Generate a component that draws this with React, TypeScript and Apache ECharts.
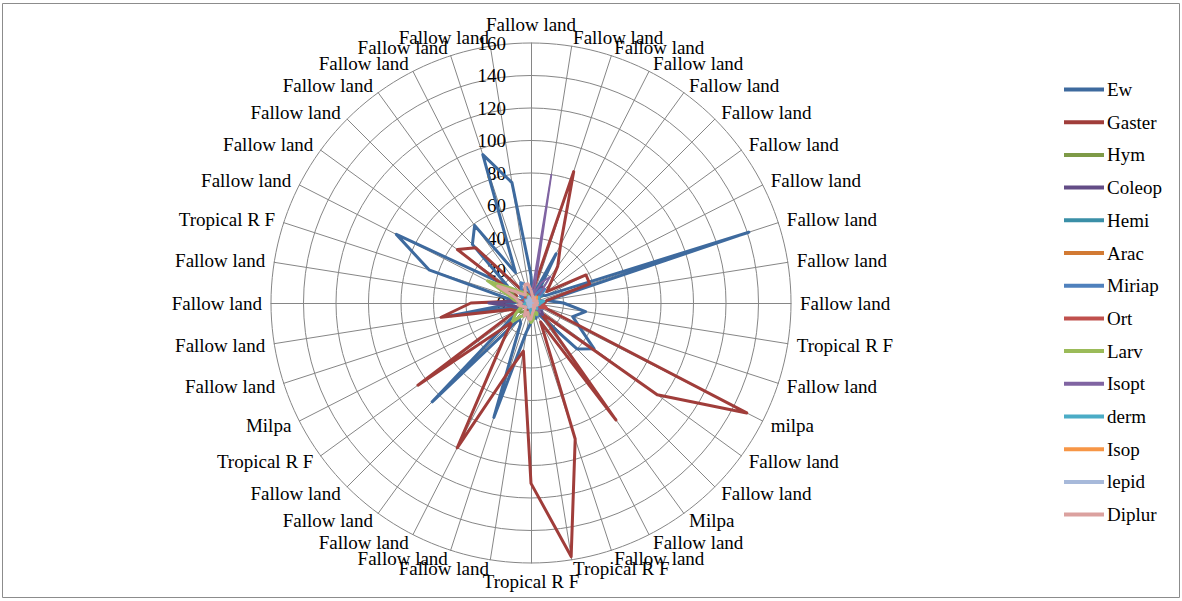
import React, { useEffect, useRef } from "react";
import * as echarts from "echarts";

// Categories listed clockwise starting from the top spoke
const categories: string[] = [
  "Fallow land", "Fallow land", "Fallow land", "Fallow land", "Fallow land",
  "Fallow land", "Fallow land", "Fallow land", "Fallow land", "Fallow land",
  "Fallow land", "Tropical R F", "Fallow land", "milpa", "Fallow land",
  "Fallow land", "Milpa", "Fallow land", "Fallow land", "Tropical R F",
  "Tropical R F", "Fallow land", "Fallow land", "Fallow land", "Fallow land",
  "Fallow land", "Tropical R F", "Milpa", "Fallow land", "Fallow land",
  "Fallow land", "Fallow land", "Tropical R F", "Fallow land", "Fallow land",
  "Fallow land", "Fallow land", "Fallow land", "Fallow land", "Fallow land",
];

const seriesNames: string[] = [
  "Ew", "Gaster", "Hym", "Coleop", "Hemi", "Arac", "Miriap",
  "Ort", "Larv", "Isopt", "derm", "Isop", "lepid", "Diplur",
];

const seriesColors: string[] = [
  "#3E6A9E", "#A03D3A", "#7E9A47", "#634C86", "#3A8FA7", "#D27A33", "#4F81BD",
  "#C0504D", "#9BBB59", "#8064A2", "#4BACC6", "#F79646", "#A7B9DA", "#DBA19F",
];

const tickValues: number[] = [0, 20, 40, 60, 80, 100, 120, 140, 160];

const ew = [17, 5, 6, 34, 6, 5, 8, 10, 141, 10, 20, 34, 27, 34, 48, 40, 10, 8, 10, 8, 12, 18, 74, 14, 12, 86, 12, 10, 8, 50, 10, 12, 66, 93, 18, 51, 59, 21, 96, 75];
const gaster = [6, 8, 85, 40, 28, 17, 12, 38, 38, 10, 8, 6, 8, 149, 96, 8, 89, 13, 88, 158, 111, 30, 44, 100, 30, 17, 86, 10, 13, 56, 37, 8, 10, 10, 56, 48, 10, 8, 5, 6];
const hym = [4, 3, 5, 4, 3, 2, 4, 3, 5, 3, 4, 3, 2, 4, 3, 5, 4, 6, 5, 8, 10, 6, 5, 7, 6, 8, 9, 7, 5, 6, 4, 8, 10, 14, 12, 9, 7, 6, 5, 4];
const coleop = [3, 4, 6, 8, 12, 6, 5, 4, 3, 4, 3, 5, 6, 5, 8, 10, 4, 3, 2, 3, 4, 2, 3, 4, 3, 2, 3, 4, 8, 12, 26, 8, 5, 4, 3, 2, 3, 4, 3, 2];
const hemi = [2, 3, 2, 4, 5, 6, 8, 4, 3, 5, 6, 4, 3, 2, 4, 3, 2, 3, 4, 3, 5, 4, 3, 2, 3, 2, 4, 3, 2, 3, 4, 3, 2, 3, 2, 3, 4, 5, 3, 2];
const arac = [1, 2, 1, 2, 3, 2, 1, 2, 3, 2, 4, 2, 1, 2, 1, 2, 3, 2, 1, 2, 3, 2, 1, 2, 1, 2, 1, 2, 3, 2, 1, 2, 1, 2, 3, 2, 1, 2, 1, 2];
const miriap = [5, 8, 4, 6, 10, 12, 6, 5, 4, 7, 5, 4, 6, 8, 5, 4, 6, 9, 5, 4, 6, 5, 4, 6, 5, 4, 3, 5, 4, 6, 5, 4, 6, 5, 8, 6, 10, 14, 12, 8];
const ort = [3, 4, 5, 3, 4, 6, 5, 4, 6, 5, 4, 8, 10, 6, 5, 4, 3, 5, 4, 6, 5, 4, 6, 5, 4, 3, 5, 4, 6, 5, 4, 6, 5, 4, 3, 5, 4, 3, 4, 5];
const larv = [3, 2, 4, 3, 2, 3, 4, 2, 3, 2, 3, 4, 3, 2, 4, 5, 6, 8, 6, 10, 12, 8, 6, 9, 10, 16, 12, 8, 6, 5, 6, 10, 14, 30, 16, 10, 8, 6, 4, 3];
const isopt = [3, 80, 6, 14, 20, 8, 5, 4, 3, 4, 3, 2, 3, 4, 6, 8, 5, 3, 2, 3, 2, 3, 2, 3, 2, 3, 4, 3, 5, 6, 8, 4, 3, 2, 3, 2, 3, 2, 3, 4];
const derm = [2, 3, 4, 3, 5, 4, 6, 5, 4, 8, 6, 5, 4, 3, 4, 5, 3, 4, 5, 3, 6, 4, 3, 2, 3, 4, 3, 2, 3, 4, 3, 2, 3, 4, 3, 2, 3, 4, 3, 2];
const isop = [1, 2, 3, 2, 3, 5, 4, 3, 2, 3, 4, 3, 2, 1, 2, 3, 2, 1, 2, 1, 2, 1, 2, 1, 2, 1, 2, 1, 2, 1, 2, 1, 2, 1, 2, 1, 2, 1, 2, 1];
const lepid = [2, 1, 2, 1, 2, 3, 2, 1, 2, 1, 2, 1, 2, 3, 2, 1, 2, 1, 2, 1, 2, 1, 2, 3, 2, 1, 2, 1, 2, 1, 2, 1, 2, 3, 2, 1, 2, 3, 4, 2];
const diplur = [8, 5, 4, 3, 4, 3, 2, 3, 4, 3, 4, 3, 4, 3, 2, 3, 4, 3, 5, 6, 10, 10, 6, 9, 6, 5, 4, 5, 6, 8, 6, 8, 10, 23, 12, 8, 6, 8, 12, 12];

const seriesValues: number[][] = [ew, gaster, hym, coleop, hemi, arac, miriap, ort, larv, isopt, derm, isop, lepid, diplur];

const SERIF = "'Liberation Serif', 'Times New Roman', serif";

export default function App() {
  const ref = useRef<HTMLDivElement>(null);

  useEffect(() => {
    document.body.style.margin = "0";
    if (!ref.current) return;
    const chart = echarts.init(ref.current, undefined, { renderer: "svg" });

    // ECharts lays radar indicators counter-clockwise; reorder so the picture runs clockwise.
    const n = categories.length;
    const order: number[] = [0];
    for (let k = n - 1; k >= 1; k--) order.push(k);

    const indicator = order.map((i, k) => {
      const base: any = { name: categories[i], min: 0, max: 160 };
      if (k === 0) {
        base.axisLabel = {
          show: true,
          color: "#000",
          fontFamily: SERIF,
          fontSize: 19,
          margin: 25,
          formatter: (v: number) => (tickValues.indexOf(v) >= 0 ? String(v) : ""),
        };
      }
      return base;
    });

    chart.setOption({
      animation: false,
      color: seriesColors,
      graphic: [
        {
          type: "rect",
          shape: { x: 2.5, y: 3.5, width: 1177, height: 594 },
          style: { fill: "none", stroke: "#8c8c8c", lineWidth: 1 },
          silent: true,
        },
      ],
      legend: {
        orient: "vertical",
        left: 1064,
        top: 80,
        padding: 0,
        icon: "rect",
        itemWidth: 40,
        itemHeight: 4,
        itemGap: 13.7,
        data: seriesNames,
        textStyle: { fontFamily: SERIF, fontSize: 19, color: "#000", lineHeight: 18, padding: [0, 0, 0, -2] },
      },
      radar: {
        center: [531, 303],
        radius: 260,
        startAngle: 90,
        shape: "circle",
        splitNumber: 8,
        nameGap: 9,
        axisName: { color: "#000", fontFamily: SERIF, fontSize: 19 },
        axisLine: { lineStyle: { color: "#868686", width: 1 } },
        splitLine: { lineStyle: { color: "#868686", width: 1 } },
        splitArea: { show: false },
        axisTick: { show: false },
        axisLabel: { show: false },
        indicator,
      },
      series: seriesNames.map((name, s) => ({
        type: "radar",
        name,
        symbol: "none",
        lineStyle: { width: name === "Isopt" ? 1.8 : 3, color: seriesColors[s] },
        itemStyle: { color: seriesColors[s] },
        data: [{ name, value: order.map((i) => seriesValues[s][i]) }],
      })),
    });

    return () => chart.dispose();
  }, []);

  return <div ref={ref} style={{ width: 1182, height: 601 }} />;
}
